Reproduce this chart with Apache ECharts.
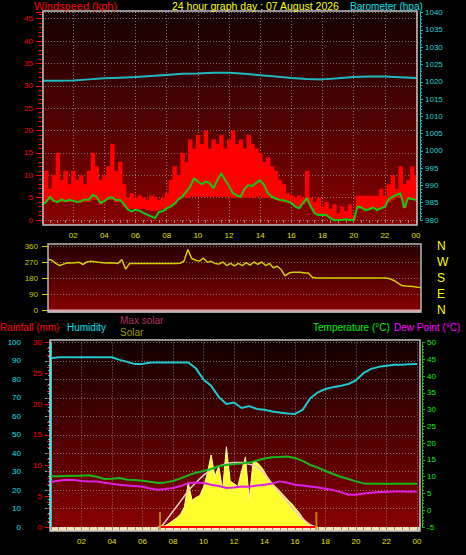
<!DOCTYPE html>
<html><head><meta charset="utf-8">
<script src="https://cdn.jsdelivr.net/npm/echarts@6/dist/echarts.min.js"></script>
<style>html,body{margin:0;padding:0;background:#000;}#c{width:466px;height:555px;}</style>
</head><body><div id="c"></div>
<script>
// ---------- DATA ----------
const titleText = '24 hour graph day : 07 August 2026';
// Wind (kph), every 15 min from 00:00 to 24:00
const windGust = [8,11,7,10, 15,9,11,8, 11,9,10,8, 11,15,12,9, 10,12,17,11, 13,8,5,6,
  5,5.5,5,4.5, 5.5,5,4.5,5, 6,9,12,10, 15,13,18,16, 19,17,20,16, 18,17,19,16,
  18,20,17,18, 16,19,17,16, 15,13,14,12, 11,9,8,6, 5.5,5,5.5,5, 11,5,4,5,
  3,4,2.5,3.5, 1.5,3,2,3.5, 1,5.4,5.4,5.4, 5.4,5.4,5.4,7, 5.4,8,10,7, 12,8,9,12, 10];
const windLow = [3.5,4,4.5,4, 4,4,4,4, 4,4,4,4, 4,4.5,4.5,3.5, 4,4.5,4.5,4, 4,3,2.5,2.5,
  2.5,2.5,2.5,2.2, 2,2,2.2,2.5, 2.5,3,3.5,4.5, 5,5,5.2,5.2, 5.2,5.2,5.2,5.2, 5.2,5.2,5.2,5.2,
  5.2,5,5,5, 5,5,5,5.2, 5.2,5,5,4.8, 4.5,4.2,4,4, 3.8,3,2.6,3.5, 4,3,1.5,1.1,
  1,0.8,0.4,0, 0,0,0,0, 0,2.5,2.5,2.2, 2.4,2.5,2.2,2.5, 3,4,4.5,5, 5,2.7,4.5,4.5, 4.5];
const windAvg = [3.4,4.0,5.2,4.3, 4.0,4.6,4.2,4.5, 4.3,4.0,4.2,4.6, 4.5,5.6,5.2,3.8, 4.2,4.9,5.1,4.4,
  4.5,3.6,2.4,1.9, 2.3,2.1,1.6,1.2, 0.8,0.4,1.8,2.0, 2.6,3.0,3.6,4.6, 5.2,6.3,7.4,9.3,
  8.6,8.0,8.6,8.3, 7.1,8.9,10.4,9.0, 7.6,6.0,5.5,5.2, 7.0,7.8,7.6,8.3, 8.9,7.8,6.0,5.2,
  4.8,4.5,4.4,4.1, 3.8,3.0,2.6,3.8, 4.9,3.0,1.5,1.1, 1.2,1.1,0.4,0, 0,0,0.2,0,
  0,3.0,2.8,2.2, 2.4,2.8,2.2,2.6, 3.0,4.6,5.2,5.6, 6.0,2.7,4.9,4.7, 4.5];
// Barometer (hPa), hourly
const baro = [1020.3,1020.3,1020.4,1020.7,1021.0,1021.2,1021.4,1021.7,1022.0,1022.3,1022.4,1022.6,
  1022.6,1022.3,1021.9,1021.5,1021.1,1020.8,1020.7,1021.0,1021.4,1021.5,1021.5,1021.3,1021.1];
// Wind direction (deg), every 15 min
const windDir = [285,280,262,250, 258,266,264,266, 268,256,270,274, 272,268,266,264, 266,264,262,284,
  230,262,262,262, 262,262,262,262, 262,262,262,262, 262,262,263,275, 340,290,280,275,
  292,268,274,262, 258,270,250,262, 248,262,250,266, 252,270,256,270, 250,262,238,246,
  228,192,208,212, 212,212,208,208, 184,180,180,180, 180,180,180,180, 180,180,180,180,
  180,180,180,180, 180,180,180,180, 176,166,152,138, 135,134,132,128, 127];
const dirLetters = ['N','E','S','W','N'];
// Humidity (%), temperature and dew point (°C), every 30 min
const humidity = [91.5,92,92,92,92,92,92,92,92, 90.6,89.5,88.3,88.3, 89.2,89.2,89.2,89.2,89.2,89.2,
  86,80,76.5,70.5,66.7,67.5,64.5,65.5,64,63.5,62.6,62,61.5,61.3,63.5,69.8,73,74.8,75.8,76.5,77.5,
  79.5,83.5,85.7,86.8,87.4,87.9,87.9,88.2,88.4];
const temperature = [10.1,10.1,10.2,10.3,10.3,10.4,10.0,9.3,9.4,9.6,9.1,9.0,8.8,8.5,8.1,8.3,8.7,9.5,
  10.4,11.2,11.7,12.3,13.2,13.5,13.8,13.9,14.2,14.8,15.4,15.8,15.9,16.0,15.6,14.7,13.5,12.7,11.7,10.8,
  10.0,9.3,8.6,8.0,7.9,7.9,7.9,7.9,7.9,7.9,7.9];
const dewPoint = [8.4,8.8,9.1,9.0,8.7,8.6,8.6,8.2,7.9,7.6, 7.4,7.2,7.0,6.5,6.1,6.3,6.6,7.2,8.1,8.3,
  8.1,7.6,7.2,6.6,6.8,7.1,7.0,7.4,7.6,8.0, 8.6,8.2,7.6,7.4,7.1,6.8,6.4,6.0,5.4,4.6,
  4.6,5.0,5.2,5.4,5.4,5.6,5.6,5.5,5.6];
// Solar (W/m²), every 15 min from 07:00
const solarStart = 7.0;
const solar = [0,5,15,40,70,100,140,220, 480,290,320,340, 430,580,780,550, 660,400,870,500,
  470,440,610,760, 300,710,700,660, 600,520,470,430, 390,345,300,260, 210,160,100,50, 15,0,0];
const maxSolarHours = [7.2,7.5,8.0,8.5,9.0,9.5,10.0,10.5,11.0,11.5,12.0,12.5,13.0,13.5,14.0,14.5,15.0,15.5,16.0,16.5,17.0,17.4];
const maxSolar = [0,60,170,280,390,480,560,620,660,685,698,698,680,650,580,470,370,270,170,90,25,0];
const sunEvents = [7.15, 17.4];       // sunrise / sunset markers
const rainHours = [7.15, 17.35];
const rainfall = [0, 0];

// ---------- BUILD ----------
const FONT = '"Liberation Sans", Arial, sans-serif';
const q = (arr, step, start) => arr.map((v, i) => [(start || 0) + i * step, v]);
const gustBars = windGust.map((g, i) => [i * 0.25, windLow[i], g]);
const hourFmt = v => v === 0 ? '' : String(v % 24).padStart(2, '0');
const dotted = {color: 'rgba(185,185,185,0.6)', width: 1, type: [1, 2]};

function xAx(grid, offset, show) {
  return {type: 'value', gridIndex: grid, min: 0, max: 24, interval: 2, show: show, offset: offset,
    axisLine: {show: false},
    axisTick: {show: true, length: 3, lineStyle: {color: '#8a8a8a'}},
    minorTick: {show: true, splitNumber: 4, length: 3, lineStyle: {color: '#8a8a8a'}},
    axisLabel: {color: '#e0e000', fontSize: 8, fontFamily: FONT, margin: 6, formatter: hourFmt},
    splitLine: {show: true, lineStyle: dotted}, minorSplitLine: {show: false}};
}
function grad(top, bottom) {
  return new echarts.graphic.LinearGradient(0, 0, 0, 1, [{offset: 0, color: top}, {offset: 1, color: bottom}]);
}
function txt(text, x, y, color, size, lh) {
  const st = {text: text, x: x, y: y, fill: color, font: size + 'px ' + FONT, align: 'left', verticalAlign: 'middle'};
  if (lh) st.lineHeight = lh;
  return {type: 'text', z: 60, style: st};
}

const chart = echarts.init(document.getElementById('c'), null, {renderer: 'svg'});
chart.setOption({
  backgroundColor: '#000',
  animation: false,
  grid: [
    {left: 42, top: 12, width: 374, height: 208, outerBoundsMode: 'none'},
    {left: 48, top: 246, width: 373, height: 64, outerBoundsMode: 'none'},
    {left: 51, top: 342.5, width: 366, height: 184.5, outerBoundsMode: 'none'}
  ],
  xAxis: [xAx(0, 5, true), xAx(1, 0, false), xAx(2, 4, true)],
  yAxis: [
    {type: 'value', gridIndex: 0, position: 'left', min: 0, max: 46.5, interval: 5, offset: 1,
      axisLine: {show: false},
      axisTick: {show: true, length: 6, lineStyle: {color: '#ff0000'}},
      minorTick: {show: true, splitNumber: 5, length: 3, lineStyle: {color: '#ff0000'}},
      axisLabel: {color: '#ff0000', fontSize: 8, fontFamily: FONT, margin: 8, showMaxLabel: false},
      splitLine: {show: true, lineStyle: dotted}},
    {type: 'value', gridIndex: 0, position: 'right', min: 980, max: 1040.2, interval: 5, offset: 4,
      axisLine: {show: true, lineStyle: {color: '#18b8b8', width: 1}},
      axisTick: {show: true, length: 3, lineStyle: {color: '#18b8b8'}},
      minorTick: {show: true, splitNumber: 5, length: 2, lineStyle: {color: '#18b8b8'}},
      axisLabel: {color: '#20d0d0', fontSize: 8, lineHeight: 8, fontFamily: FONT, margin: 5,
        showMaxLabel: false, formatter: v => String(v)},
      splitLine: {show: false}},
    {type: 'value', gridIndex: 1, position: 'left', min: 0, max: 360, interval: 90, offset: 0,
      axisLine: {show: false},
      axisTick: {show: true, length: 6, lineStyle: {color: '#c8c800'}},
      axisLabel: {color: '#c8c800', fontSize: 8, fontFamily: FONT, margin: 10},
      splitLine: {show: true, lineStyle: dotted}},
    {type: 'value', gridIndex: 1, position: 'right', min: 0, max: 360, interval: 90,
      axisLine: {show: false}, axisTick: {show: false},
      axisLabel: {color: '#ffff00', fontSize: 12, fontFamily: FONT, margin: 16,
        formatter: v => dirLetters[Math.round(v / 90)]},
      splitLine: {show: false}},
    {type: 'value', gridIndex: 2, position: 'left', min: 0, max: 100, interval: 10, offset: 21,
      axisLine: {show: true, lineStyle: {color: '#00d8e0', width: 2}},
      axisTick: {show: true, length: 6, lineStyle: {color: '#00d8e0'}},
      minorTick: {show: true, splitNumber: 4, length: 3, lineStyle: {color: '#00d8e0'}},
      axisLabel: {color: '#00e0e8', fontSize: 8, fontFamily: FONT, margin: 9},
      splitLine: {show: true, lineStyle: dotted}},
    {type: 'value', gridIndex: 2, position: 'left', min: 0, max: 30, interval: 5, offset: 1,
      axisLine: {show: false},
      axisTick: {show: true, length: 5, lineStyle: {color: '#ff0000'}},
      minorTick: {show: true, splitNumber: 5, length: 3, lineStyle: {color: '#ff0000'}},
      axisLabel: {color: '#ff0000', fontSize: 8, fontFamily: FONT, margin: 8},
      splitLine: {show: false}},
    {type: 'value', gridIndex: 2, position: 'right', min: -5, max: 50, interval: 5, offset: 5,
      axisLine: {show: true, lineStyle: {color: '#10c010', width: 1}},
      axisTick: {show: true, length: 3, lineStyle: {color: '#10c010'}},
      minorTick: {show: true, splitNumber: 5, length: 2, lineStyle: {color: '#10c010'}},
      axisLabel: {color: '#10f010', fontSize: 8, fontFamily: FONT, margin: 5},
      splitLine: {show: false}},
    {type: 'value', gridIndex: 2, position: 'right', min: 0, max: 2000, show: false}
  ],
  series: [
    {type: 'custom', xAxisIndex: 0, yAxisIndex: 0, clip: true, silent: true, z: 2,
      encode: {x: 0, y: [1, 2]}, data: gustBars,
      renderItem: function (params, api) {
        const h = api.value(0), lo = api.value(1), hi = api.value(2);
        const a = api.coord([h - 0.125, hi]);
        const b = api.coord([h + 0.125, lo]);
        return {type: 'rect', shape: {x: a[0], y: a[1], width: b[0] - a[0] + 0.5, height: b[1] - a[1]},
          style: {fill: '#ff0000'}};
      }},
    {type: 'line', xAxisIndex: 0, yAxisIndex: 0, symbol: 'none', z: 4,
      lineStyle: {color: '#10cc10', width: 2}, data: q(windAvg, 0.25)},
    {type: 'line', xAxisIndex: 0, yAxisIndex: 1, symbol: 'none', z: 4,
      lineStyle: {color: '#20b8c0', width: 2}, data: q(baro, 1)},
    {type: 'line', xAxisIndex: 1, yAxisIndex: 2, symbol: 'none',
      lineStyle: {color: '#d4cc00', width: 1.5}, data: q(windDir, 0.25)},
    {type: 'line', xAxisIndex: 2, yAxisIndex: 7, symbol: 'none',
      lineStyle: {color: '#ffffa0', width: 1}, areaStyle: {color: '#ffff30', opacity: 1},
      data: q(solar, 0.25, solarStart)},
    {type: 'line', xAxisIndex: 2, yAxisIndex: 7, symbol: 'none', smooth: true, z: 3,
      lineStyle: {color: '#f0c8cc', width: 1.5}, data: maxSolarHours.map((h, i) => [h, maxSolar[i]])},
    {type: 'line', xAxisIndex: 2, yAxisIndex: 5, symbol: 'none', z: 3,
      lineStyle: {color: '#ff0000', width: 2}, data: rainHours.map((h, i) => [h, rainfall[i]])},
    {type: 'scatter', xAxisIndex: 2, yAxisIndex: 5, symbol: 'rect', symbolSize: [2, 18], symbolOffset: [0, -6],
      itemStyle: {color: '#c8a000'}, z: 3, data: sunEvents.map(h => [h, 0])},
    {type: 'line', xAxisIndex: 2, yAxisIndex: 6, symbol: 'none', z: 4,
      lineStyle: {color: '#18b818', width: 2}, data: q(temperature, 0.5)},
    {type: 'line', xAxisIndex: 2, yAxisIndex: 6, symbol: 'none', z: 4,
      lineStyle: {color: '#e020e0', width: 2}, data: q(dewPoint, 0.5)},
    {type: 'line', xAxisIndex: 2, yAxisIndex: 4, symbol: 'none', z: 5,
      lineStyle: {color: '#20c8d0', width: 2}, data: q(humidity, 0.5)}
  ],
  graphic: [
    {type: 'rect', z: -10, shape: {x: 43, y: 11, width: 374, height: 214}, style: {fill: grad('#140202', '#880000')}},
    {type: 'rect', z: -10, shape: {x: 48, y: 244, width: 373, height: 68}, style: {fill: grad('#260000', '#880000')}},
    {type: 'rect', z: -10, shape: {x: 50, y: 340, width: 370, height: 191}, style: {fill: grad('#120000', '#8a0000')}},
    {type: 'rect', z: -5, shape: {x: 50, y: 527, width: 370, height: 4}, style: {fill: '#f8e4b8'}},
    {type: 'rect', z: 50, shape: {x: 48, y: 309.5, width: 373, height: 3}, style: {fill: '#e0a8a8'}},
    {type: 'rect', z: 50, shape: {x: 43, y: 11, width: 374, height: 214}, style: {fill: null, stroke: '#c4c4c4', lineWidth: 1.5}},
    {type: 'rect', z: 50, shape: {x: 48, y: 244, width: 373, height: 68}, style: {fill: null, stroke: '#b8b8b8', lineWidth: 1.5}},
    {type: 'rect', z: 50, shape: {x: 50, y: 340, width: 370, height: 191}, style: {fill: null, stroke: '#c4c4c4', lineWidth: 1.5}},
    txt('Windspeed (kph)', 34, 6, '#ff0000', 11),
    txt(titleText, 172, 6, '#ffff00', 10.5),
    txt('Barometer (hpa)', 350, 6, '#00e0e8', 10),
    txt('Rainfall (mm)', 0, 327, '#ff0000', 10),
    txt('Humidity', 67, 327, '#00e0e8', 10),
    txt('Max solar', 120, 320, '#b8305a', 10),
    txt('Solar', 120, 332, '#a09800', 10),
    txt('Temperature (°C)', 313, 327, '#00f000', 10),
    txt('Dew Point (°C)', 394, 327, '#ff00ff', 10)
  ]
});
</script></body></html>
